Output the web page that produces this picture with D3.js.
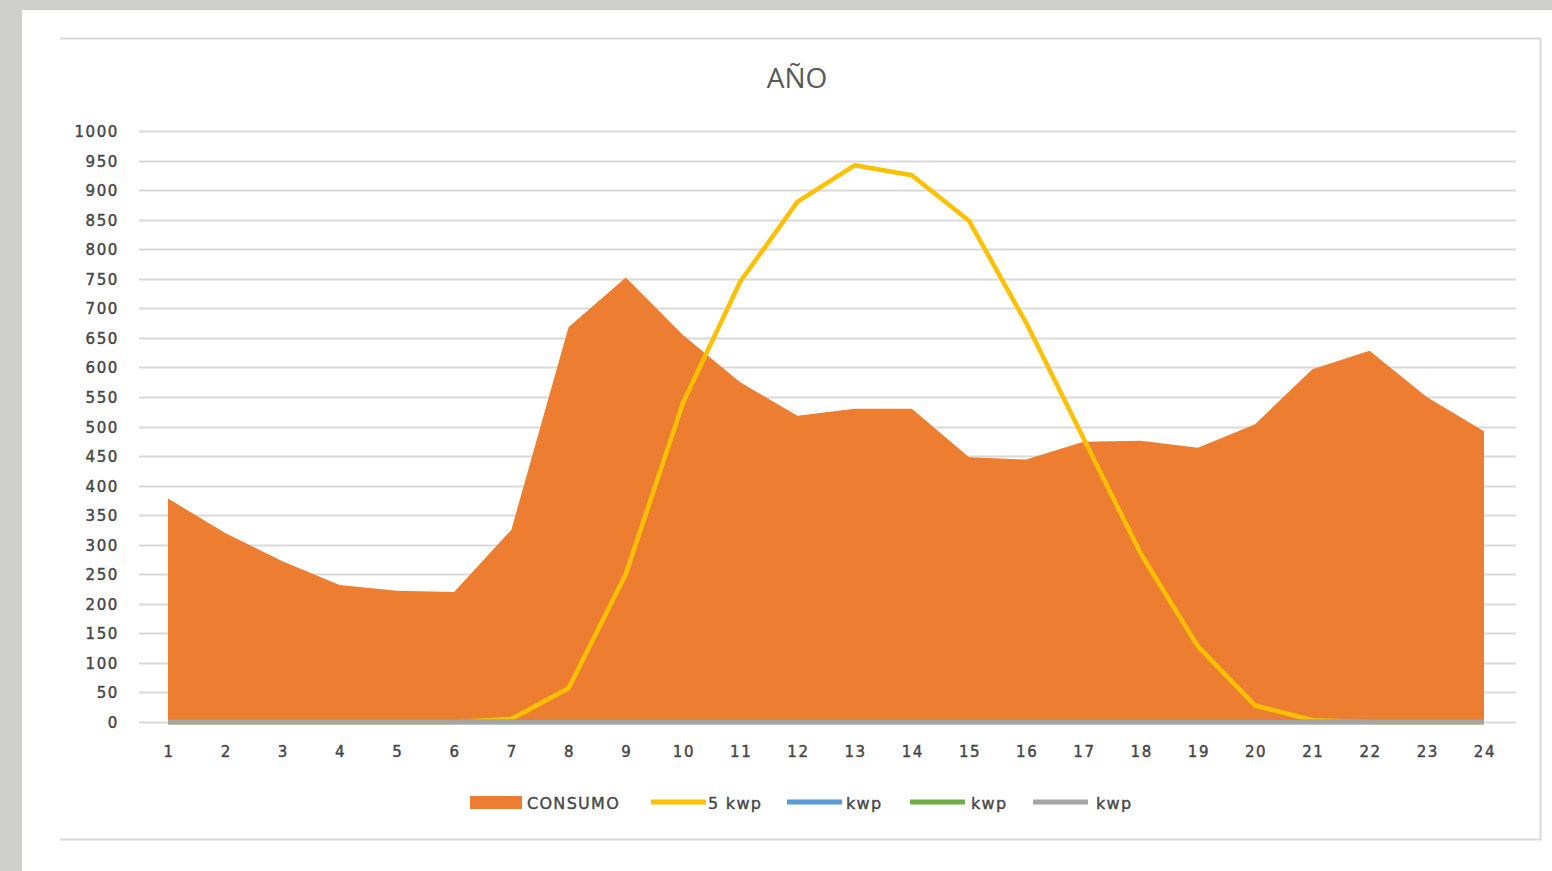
<!DOCTYPE html>
<html>
<head>
<meta charset="utf-8">
<script src="https://cdn.jsdelivr.net/npm/d3@7"></script>
<style>
  body { margin: 0; background: #cfcfcd; }
  svg { display: block; }
  .tick-label { font-family: "DejaVu Sans", sans-serif; font-size: 15px; fill: #474747; stroke: #474747; stroke-width: 0.45px; letter-spacing: 1.6px; }
  .legend-label { font-family: "DejaVu Sans", sans-serif; font-size: 16px; fill: #474747; stroke: #474747; stroke-width: 0.4px; letter-spacing: 1.3px; }
</style>
</head>
<body>
<svg id="chart" width="1552" height="871"></svg>
<script>
// hours 1..24
var hours = d3.range(1, 25);
var consumo = [378, 320, 272, 232, 222, 220, 325, 668, 752, 655, 575, 518, 530, 530, 448, 444, 474, 476, 464, 504, 597, 628, 550, 492];
var kwp5 = [0, 0, 0, 0, 0, 0, 5, 57, 250, 540, 745, 880, 942, 925, 848, 675, 480, 285, 128, 28, 3, 0, 0, 0];
var kwpBlue = hours.map(() => 0);
var kwpGreen = hours.map(() => 0);
var kwpGray = hours.map(() => 0);
var yTicks = d3.range(0, 1001, 50);
var legendNames = ["CONSUMO", "5 kwp", "kwp", "kwp", "kwp"];
var lineColors = ["#ffc000", "#5b9bd5", "#70ad47", "#a5a5a5"];

var svg = d3.select('#chart');

// white page area + chart frame
svg.append('rect').attr('x', 22).attr('y', 10).attr('width', 1530).attr('height', 861).attr('fill', '#ffffff');
svg.append('path')
    .attr('d', 'M60,38.5 H1540.5 V839.5 H60')
    .attr('fill', 'none')
    .attr('stroke', '#d9d9d9')
    .attr('stroke-width', 2);

svg.append('text')
    .attr('x', 797)
    .attr('y', 88)
    .attr('text-anchor', 'middle')
    .style('font-family', '"Open Sans", "Liberation Sans", sans-serif')
    .style('font-size', '28px')
    .style('fill', '#595959')
    .text('AÑO');

var x = d3.scaleLinear().domain([1, 24]).range([168, 1484]);
var y = d3.scaleLinear().domain([0, 1000]).range([722, 131]);

// gridlines
svg.append('g')
    .selectAll('line')
    .data(yTicks)
    .enter()
    .append('line')
    .attr('x1', 139)
    .attr('x2', 1516)
    .attr('y1', d => Math.round(y(d)) + 0.5)
    .attr('y2', d => Math.round(y(d)) + 0.5)
    .attr('stroke', '#d9d9d9')
    .attr('stroke-width', 2);

svg.append('g')
    .selectAll('text')
    .data(yTicks)
    .enter()
    .append('text')
    .attr('class', 'tick-label')
    .attr('x', 119)
    .attr('y', d => y(d) + 6)
    .attr('text-anchor', 'end')
    .text(d => d);

svg.append('g')
    .selectAll('text')
    .data(hours)
    .enter()
    .append('text')
    .attr('class', 'tick-label')
    .attr('x', d => x(d) + 1)
    .attr('y', 757)
    .attr('text-anchor', 'middle')
    .text(d => d);

// consumo area
var area = d3.area()
    .x((d, i) => x(hours[i]))
    .y0(y(0))
    .y1(d => y(d));

svg.append('path')
    .datum(consumo)
    .attr('d', area)
    .attr('fill', '#ed7d31');

var line = d3.line()
    .x((d, i) => x(hours[i]))
    .y(d => y(d));

// line series (yellow first, zero lines on top)
[kwp5, kwpBlue, kwpGreen, kwpGray].forEach(function(series, i) {
    svg.append('path')
        .datum(series)
        .attr('d', line)
        .attr('fill', 'none')
        .attr('stroke', lineColors[i])
        .attr('stroke-width', 4.5)
        .attr('stroke-linejoin', 'round');
});

// legend
var legendX = [470, 651, 787, 910, 1033];
var legendTextX = [527, 708, 846, 971, 1096];
var legend = svg.append('g');
legendNames.forEach(function(name, i) {
    if (i == 0) {
        legend.append('rect')
            .attr('x', legendX[i]).attr('y', 796)
            .attr('width', 52).attr('height', 13)
            .attr('fill', '#ed7d31');
    } else {
        legend.append('line')
            .attr('x1', legendX[i]).attr('x2', legendX[i] + 55)
            .attr('y1', 802).attr('y2', 802)
            .attr('stroke', lineColors[i - 1])
            .attr('stroke-width', 5);
    }
    legend.append('text')
        .attr('class', 'legend-label')
        .attr('x', legendTextX[i])
        .attr('y', 809)
        .text(name);
});
</script>
</body>
</html>
